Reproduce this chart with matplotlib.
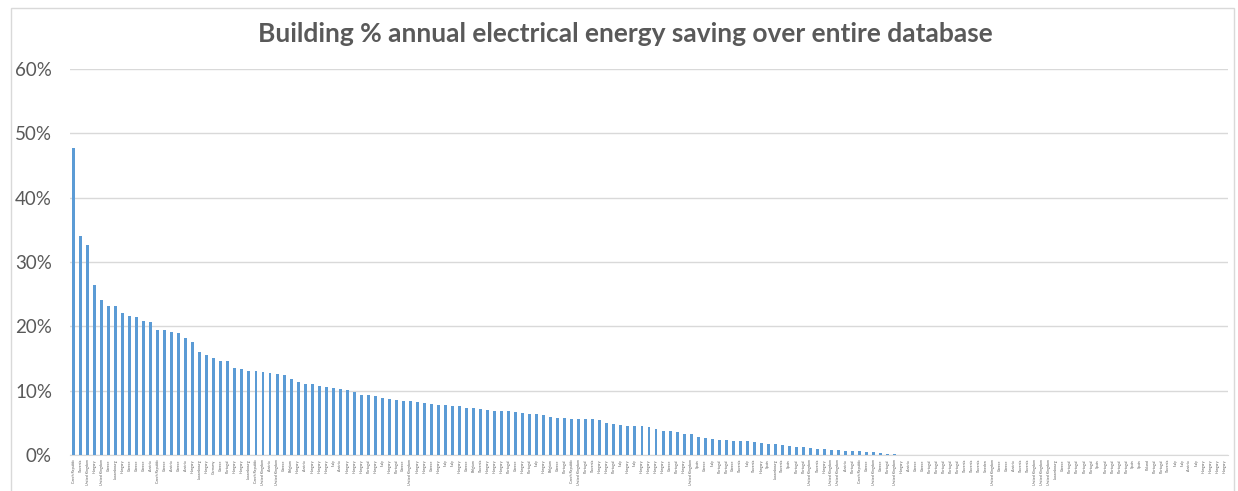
import matplotlib.pyplot as plt
from matplotlib.patches import Rectangle
from matplotlib.ticker import PercentFormatter

# Building names (country) in the order they appear on the x axis
countries = [
    "Czech Republic", "Slovenia", "United Kingdom", "Hungary", "United Kingdom",
    "Greece", "Luxembourg", "Hungary", "Greece", "Greece",
    "Greece", "Austria", "Czech Republic", "Greece", "Austria",
    "Greece", "Austria", "Hungary", "Luxembourg", "Hungary",
    "Germany", "Greece", "Portugal", "Hungary", "Hungary",
    "Luxembourg", "Czech Republic", "United Kingdom", "Austria", "United Kingdom",
    "Greece", "Belgium", "Hungary", "Austria", "Hungary",
    "Hungary", "Hungary", "Italy", "Austria", "Hungary",
    "Hungary", "Hungary", "Portugal", "Hungary", "Italy",
    "Hungary", "Portugal", "Greece", "United Kingdom", "Hungary",
    "Hungary", "Greece", "Hungary", "Italy", "Italy",
    "Hungary", "Greece", "Belgium", "Slovenia", "Hungary",
    "Hungary", "Hungary", "Portugal", "Greece", "Hungary",
    "Portugal", "Italy", "Hungary", "Belgium", "Greece",
    "Portugal", "Czech Republic", "United Kingdom", "Portugal", "Slovenia",
    "Hungary", "Hungary", "Portugal", "Italy", "Hungary",
    "Italy", "Hungary", "Hungary", "Hungary", "Hungary",
    "Greece", "Portugal", "Hungary", "United Kingdom", "Spain",
    "Greece", "Italy", "Portugal", "Portugal", "Greece",
    "Slovenia", "Italy", "Slovenia", "Hungary", "Spain",
    "Luxembourg", "Slovenia", "Spain", "Portugal", "Portugal",
    "United Kingdom", "Slovenia", "Hungary", "United Kingdom", "United Kingdom",
    "Austria", "Portugal", "Czech Republic", "Greece", "United Kingdom",
    "Greece", "Portugal", "United Kingdom", "Hungary", "Austria",
    "Greece", "Greece", "Portugal", "Portugal", "Portugal",
    "Portugal", "Portugal", "Slovenia", "Slovenia", "Slovenia",
    "Sweden", "United Kingdom", "Greece", "Greece", "Austria",
    "Slovenia", "Slovenia", "United Kingdom", "United Kingdom", "United Kingdom",
    "Luxembourg", "Greece", "Portugal", "Portugal", "Portugal",
    "Portugal", "Spain", "Portugal", "Portugal", "Portugal",
    "Portugal", "Spain", "Spain", "Poland", "Portugal",
    "Portugal", "Slovenia", "Italy", "Italy", "Austria",
    "Italy", "Hungary", "Hungary", "Hungary", "Hungary",
]

# annual electrical energy saving, %
saving_pct = [
    47.7, 34.0, 32.7, 26.5, 24.1, 23.2, 23.2, 22.1, 21.6, 21.4,
    20.8, 20.7, 19.5, 19.4, 19.1, 18.9, 18.2, 17.6, 16.0, 15.5,
    15.1, 14.6, 14.6, 13.5, 13.4, 13.1, 13.0, 12.85, 12.7, 12.6,
    12.4, 11.8, 11.35, 11.1, 11.0, 10.7, 10.5, 10.4, 10.2, 10.05,
    9.8, 9.4, 9.4, 9.2, 8.8, 8.75, 8.55, 8.45, 8.4, 8.2,
    8.15, 7.9, 7.8, 7.72, 7.66, 7.55, 7.34, 7.29, 7.19, 7.03,
    6.88, 6.88, 6.82, 6.61, 6.51, 6.35, 6.35, 6.2, 5.94, 5.73,
    5.73, 5.63, 5.57, 5.57, 5.52, 5.47, 5.0, 4.84, 4.74, 4.58,
    4.55, 4.5, 4.4, 4.0, 3.68, 3.68, 3.52, 3.2, 3.2, 2.75,
    2.64, 2.54, 2.28, 2.28, 2.23, 2.18, 2.18, 2.02, 1.92, 1.76,
    1.66, 1.55, 1.4, 1.24, 1.19, 1.04, 0.98, 0.93, 0.78, 0.73,
    0.67, 0.62, 0.57, 0.47, 0.47, 0.31, 0.2, 0.1,
] + [0.0] * 47

grey = "#595959"
plt.rcParams["font.family"] = ["Lato", "DejaVu Sans"]

fig = plt.figure(figsize=(12.38, 4.91), dpi=100)
ax = fig.add_axes([70 / 1238, 1 - 455 / 491, 1158 / 1238, 386 / 491])

x = list(range(len(saving_pct)))
ax.bar(x, saving_pct, width=0.42, color="#5B9BD5", zorder=3)

ax.set_xlim(-0.5, len(saving_pct) - 0.5)
ax.set_ylim(0, 60)
ax.set_yticks(range(0, 61, 10))
ax.yaxis.set_major_formatter(PercentFormatter(decimals=0))
ax.tick_params(axis="y", length=0, labelsize=13.5, labelcolor=grey, pad=13)
ax.set_xticks(x)
ax.set_xticklabels(countries, rotation=90, fontsize=2.6, color=grey)
ax.tick_params(axis="x", length=0, pad=3)

ax.grid(axis="y", color="#D9D9D9", linewidth=1, zorder=0)
for side in ["top", "right", "left"]:
    ax.spines[side].set_visible(False)
ax.spines["bottom"].set_color("#D9D9D9")

fig.text(625 / 1238, 1 - 34 / 491, "Building % annual electrical energy saving over entire database",
         ha="center", va="center", fontsize=19, fontweight="bold", color=grey)

# chart border like Excel
fig.patches.append(Rectangle((11 / 1238, -0.01), 1223 / 1238, 1 - 8 / 491 + 0.01,
                             transform=fig.transFigure, fill=False,
                             edgecolor="#D9D9D9", linewidth=1))

fig.savefig("out.png", dpi=100)
